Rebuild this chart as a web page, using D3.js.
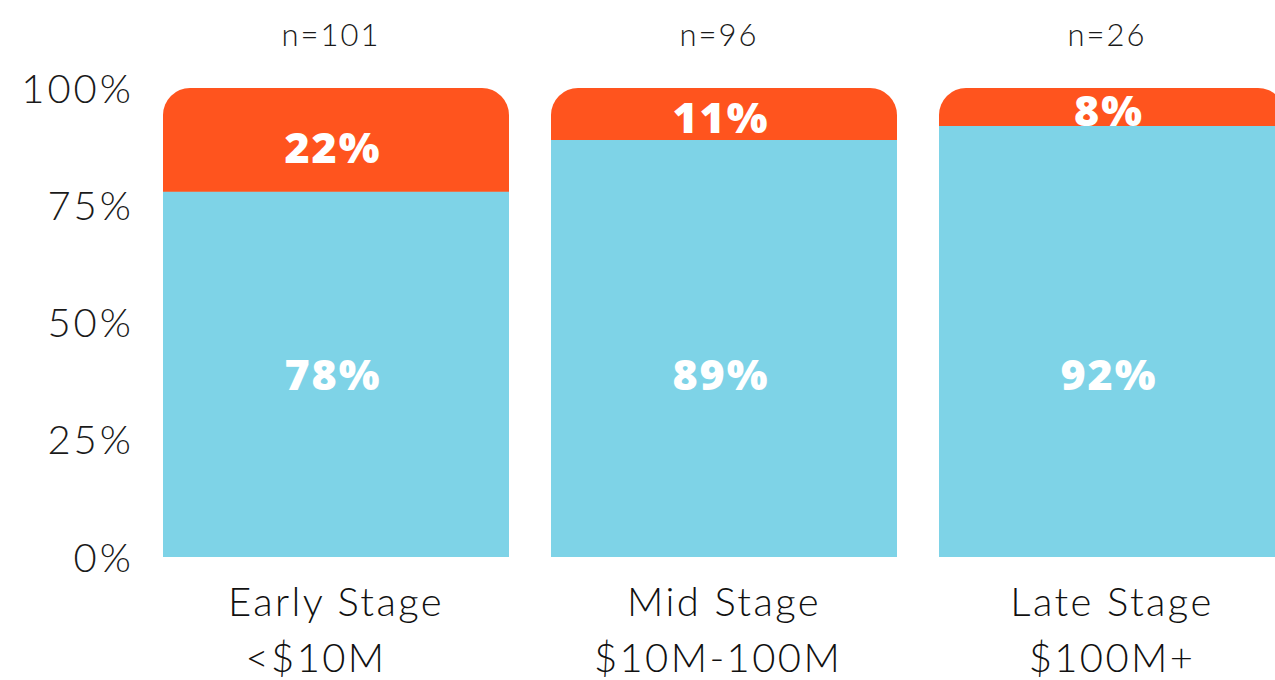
<!DOCTYPE html>
<html>
<head>
<meta charset="utf-8">
<script src="https://cdn.jsdelivr.net/npm/d3@7"></script>
<style>
  html, body { margin: 0; padding: 0; background: #ffffff; overflow: hidden; }
  svg { display: block; }
  .tick-label { font-family: "Lato", "Open Sans", sans-serif; font-weight: 300; font-size: 40px; fill: #1a1a1a; letter-spacing: 3px; }
  .n-label { font-family: "Lato", "Open Sans", sans-serif; font-weight: 300; font-size: 31px; fill: #1a1a1a; letter-spacing: 2px; }
  .cat-label { font-family: "Lato", "Open Sans", sans-serif; font-weight: 300; font-size: 40px; fill: #111; letter-spacing: 2.4px; }
  .val-label { font-family: "Open Sans", "Lato", sans-serif; font-weight: 800; font-size: 43px; fill: #ffffff; letter-spacing: 2px; }
</style>
</head>
<body>
<svg id="chart" width="1275" height="680"></svg>
<script>
// Funding stage categories (two-line labels)
const categories = ["Early Stage", "Mid Stage", "Late Stage"];
const subLabels = ["<$10M", "$10M-100M", "$100M+"];
const sampleSizes = [101, 96, 26];

// Share of respondents per stage (percent)
const bluePct = [78, 89, 92];
const orangePct = [22, 11, 8];

// Y-axis ticks
const yTicks = [0, 25, 50, 75, 100];

const colors = { blue: "#7ed3e7", orange: "#ff541e" };

const svg = d3.select("#chart");

const x = d3.scaleBand()
  .domain(categories)
  .range([163, 1285])
  .paddingInner(42 / 388)
  .paddingOuter(0);

const y = d3.scaleLinear()
  .domain([0, 100])
  .range([557, 88]);

// Y axis labels
const yAxis = d3.axisLeft(y)
  .tickValues(yTicks)
  .tickFormat(d => d + "%")
  .tickSize(0)
  .tickPadding(0);

const yAxisG = svg.append("g")
  .attr("transform", "translate(134,0)")
  .call(yAxis);
yAxisG.select(".domain").remove();
yAxisG.selectAll("text")
  .attr("class", "tick-label")
  .attr("font-size", null)
  .attr("font-family", null)
  .attr("fill", null)
  .attr("dy", "0.35em");

const radius = 27;

// Top segment with rounded upper corners
function roundedTop(x0, w, yTop, yBot, r) {
  const p = d3.path();
  p.moveTo(x0, yBot);
  p.lineTo(x0, yTop + r);
  p.arcTo(x0, yTop, x0 + r, yTop, r);
  p.lineTo(x0 + w - r, yTop);
  p.arcTo(x0 + w, yTop, x0 + w, yTop + r, r);
  p.lineTo(x0 + w, yBot);
  p.closePath();
  return p.toString();
}

const bars = svg.append("g");

categories.forEach((c, i) => {
  const x0 = x(c);
  const w = x.bandwidth();
  const yBoundary = y(bluePct[i]);

  bars.append("rect")
    .attr("x", x0)
    .attr("y", yBoundary)
    .attr("width", w)
    .attr("height", y(0) - yBoundary)
    .attr("fill", colors.blue);

  bars.append("path")
    .attr("d", roundedTop(x0, w, y(bluePct[i] + orangePct[i]), yBoundary + 0.5, radius))
    .attr("fill", colors.orange);

  const cx = x0 + w / 2;

  // Value labels: lower series on a shared line, upper series inside its segment
  svg.append("text")
    .attr("class", "val-label")
    .attr("x", cx - 3)
    .attr("y", y(39))
    .attr("dy", "0.36em")
    .attr("text-anchor", "middle")
    .text(bluePct[i] + "%");

  svg.append("text")
    .attr("class", "val-label")
    .attr("x", cx - 3)
    .attr("y", (y(100) + yBoundary) / 2 + (orangePct[i] > 15 ? 8 : 4))
    .attr("dy", "0.36em")
    .attr("text-anchor", "middle")
    .text(orangePct[i] + "%");

  // Sample size
  svg.append("text")
    .attr("class", "n-label")
    .attr("x", cx - 5)
    .attr("y", 46)
    .attr("text-anchor", "middle")
    .text("n=" + sampleSizes[i]);

  // Category labels
  svg.append("text")
    .attr("class", "cat-label")
    .attr("x", cx)
    .attr("y", 616)
    .attr("text-anchor", "middle")
    .text(c);

  svg.append("text")
    .attr("class", "cat-label")
    .attr("x", cx - (i === 0 ? 20 : (i === 1 ? 6 : 0)))
    .attr("y", 672)
    .attr("text-anchor", "middle")
    .text(subLabels[i]);
});
</script>
</body>
</html>
